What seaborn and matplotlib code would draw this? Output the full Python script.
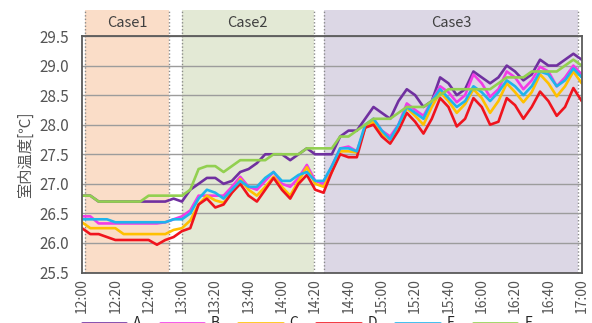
import matplotlib
matplotlib.use("Agg")
import matplotlib.pyplot as plt
import pandas as pd
import seaborn as sns

# Sampling times in minutes after 12:00
minutes = list(range(0, 301, 5))

temp_A = [26.8, 26.8, 26.7, 26.7, 26.7, 26.7, 26.7, 26.7, 26.7, 26.7,
          26.7, 26.75, 26.7, 26.9, 27.0, 27.1, 27.1, 27.0, 27.05, 27.2,
          27.25, 27.35, 27.5, 27.5, 27.5, 27.4, 27.5, 27.6, 27.5, 27.5,
          27.5, 27.8, 27.9, 27.9, 28.1, 28.3, 28.2, 28.1, 28.4, 28.6,
          28.5, 28.3, 28.4, 28.8, 28.7, 28.5, 28.6, 28.9, 28.8, 28.7,
          28.8, 29.0, 28.9, 28.75, 28.85, 29.1, 29.0, 29.0, 29.1, 29.2,
          29.1]
temp_B = [26.45, 26.45, 26.33, 26.33, 26.33, 26.33, 26.33, 26.33, 26.33, 26.33,
          26.35, 26.4, 26.45, 26.55, 26.8, 26.8, 26.8, 26.8, 26.95, 27.12,
          26.95, 26.9, 27.05, 27.2, 27.0, 26.95, 27.1, 27.32, 27.05, 27.0,
          27.3, 27.6, 27.63, 27.55, 27.95, 28.1, 27.9, 27.8, 28.0, 28.36,
          28.25, 28.15, 28.4, 28.65, 28.55, 28.38, 28.5, 28.85, 28.7, 28.47,
          28.6, 28.9, 28.8, 28.6, 28.75, 28.98, 28.9, 28.65, 28.8, 29.0,
          28.85]
temp_C = [26.35, 26.25, 26.25, 26.25, 26.25, 26.15, 26.15, 26.15, 26.15, 26.15,
          26.15, 26.22, 26.25, 26.38, 26.65, 26.8, 26.72, 26.68, 26.85, 27.08,
          26.9, 26.8, 26.95, 27.12, 26.95, 26.8, 27.05, 27.28, 27.0, 26.95,
          27.2, 27.55, 27.55, 27.53, 27.95, 28.05, 27.85, 27.75, 27.95, 28.28,
          28.15, 28.0, 28.3, 28.55, 28.4, 28.2, 28.35, 28.6, 28.45, 28.2,
          28.4, 28.7, 28.55, 28.38, 28.55, 28.85, 28.7, 28.48, 28.65, 28.9,
          28.7]
temp_D = [26.25, 26.15, 26.15, 26.1, 26.05, 26.05, 26.05, 26.05, 26.05, 25.97,
          26.05, 26.1, 26.2, 26.25, 26.65, 26.75, 26.6, 26.65, 26.85, 27.0,
          26.8, 26.7, 26.9, 27.1, 26.9, 26.75, 27.0, 27.15, 26.9, 26.85,
          27.2, 27.5, 27.45, 27.45, 27.95, 28.0, 27.8, 27.68, 27.9, 28.2,
          28.05, 27.85, 28.1, 28.45, 28.3, 27.97, 28.1, 28.45, 28.3, 28.0,
          28.05, 28.45, 28.33, 28.1, 28.3, 28.56, 28.4, 28.15, 28.3, 28.62,
          28.4]
temp_E = [26.4, 26.4, 26.4, 26.4, 26.35, 26.35, 26.35, 26.35, 26.35, 26.35,
          26.35, 26.4, 26.4, 26.5, 26.75, 26.9, 26.85, 26.75, 26.9, 27.05,
          26.95, 26.95, 27.1, 27.2, 27.05, 27.05, 27.15, 27.2, 27.05, 27.05,
          27.3, 27.6, 27.6, 27.55, 28.0, 28.1, 27.9, 27.75, 28.0, 28.3,
          28.2, 28.1, 28.4, 28.6, 28.45, 28.3, 28.4, 28.65, 28.55, 28.4,
          28.55, 28.75, 28.65, 28.5, 28.65, 28.9, 28.85, 28.65, 28.75, 28.95,
          28.8]
temp_F = [26.8, 26.8, 26.7, 26.7, 26.7, 26.7, 26.7, 26.7, 26.8, 26.8,
          26.8, 26.8, 26.8, 26.9, 27.25, 27.3, 27.3, 27.2, 27.3, 27.4,
          27.4, 27.4, 27.4, 27.5, 27.5, 27.5, 27.5, 27.6, 27.6, 27.6,
          27.6, 27.8, 27.8, 27.9, 28.0, 28.1, 28.1, 28.1, 28.2, 28.3,
          28.3, 28.3, 28.4, 28.5, 28.6, 28.6, 28.6, 28.6, 28.6, 28.6,
          28.7, 28.8, 28.8, 28.8, 28.9, 28.9, 28.9, 28.9, 29.0, 29.1,
          29.0]

series_names = ["A", "B", "C", "D", "E", "F"]
series_colors = ["#7030A0", "#F23CE6", "#FFC000", "#F0141E", "#1FB4EC", "#92D050"]

case_labels = ["Case1", "Case2", "Case3"]
case_starts = [2, 60, 145]
case_ends = [52, 139, 298]
case_colors = ["#FADDC8", "#E3E9D5", "#DCD7E5"]

ytick_values = [25.5, 26.0, 26.5, 27.0, 27.5, 28.0, 28.5, 29.0, 29.5]
xtick_minutes = list(range(0, 301, 20))
xtick_labels = [f"{12 + m // 60}:{m % 60:02d}" for m in xtick_minutes]

all_series = [temp_A, temp_B, temp_C, temp_D, temp_E, temp_F]
df = pd.DataFrame({
    "minute": minutes * len(series_names),
    "temp": [v for s in all_series for v in s],
    "series": [n for n in series_names for _ in minutes],
})

sns.set_theme(style="white")
plt.rcParams["font.family"] = ["Noto Sans CJK JP", "DejaVu Sans"]

fig = plt.figure(figsize=(5.92, 3.23), dpi=100)
ax = fig.add_axes([0.1385, 0.1563, 0.8441, 0.7322])

sns.lineplot(data=df, x="minute", y="temp", hue="series",
             palette=dict(zip(series_names, series_colors)),
             linewidth=1.9, errorbar=None, ax=ax, zorder=3)

# Shaded case periods, extended above the plot frame for their titles
span_top = 1.11
for label, s, e, c in zip(case_labels, case_starts, case_ends, case_colors):
    ax.axvspan(s, e, ymin=0, ymax=span_top, color=c, lw=0, zorder=0, clip_on=False)
    for xv in (s, e):
        ax.axvline(xv, ymin=0, ymax=span_top, color="#8a8a8a", lw=1.0,
                   ls=(0, (1, 1.5)), zorder=1, clip_on=False)
    ax.text((s + e) / 2, 1.056, label, transform=ax.get_xaxis_transform(),
            ha="center", va="center", fontsize=10.5, color="#404040")

ax.set_xlim(0, 300)
ax.set_ylim(25.5, 29.5)
ax.set_yticks(ytick_values)
ax.set_yticklabels([f"{v:.1f}" for v in ytick_values])
ax.set_xticks(xtick_minutes)
ax.set_xticklabels(xtick_labels, rotation=90)
ax.tick_params(axis="both", length=0, colors="#555555")
ax.tick_params(axis="y", labelsize=11, pad=9)
ax.tick_params(axis="x", labelsize=10, pad=4)
ax.grid(axis="y", color="#9c9c9c", lw=1.0, zorder=1)
ax.grid(axis="x", visible=False)
ax.set_axisbelow(False)
for sp in ax.spines.values():
    sp.set_color("#5a5a5a")
    sp.set_linewidth(1.3)
    sp.set_zorder(4)
ax.set_facecolor("none")

ax.set_xlabel("")
ax.set_ylabel("室内温度[℃]", fontsize=11, color="#555555", labelpad=4)

sns.move_legend(ax, loc="center", bbox_to_anchor=(0.45, -0.215), ncol=6,
                frameon=False, title=None, fontsize=10, handlelength=3.2,
                handletextpad=0.5, columnspacing=1.3)

fig.savefig("out.png", dpi=100)
